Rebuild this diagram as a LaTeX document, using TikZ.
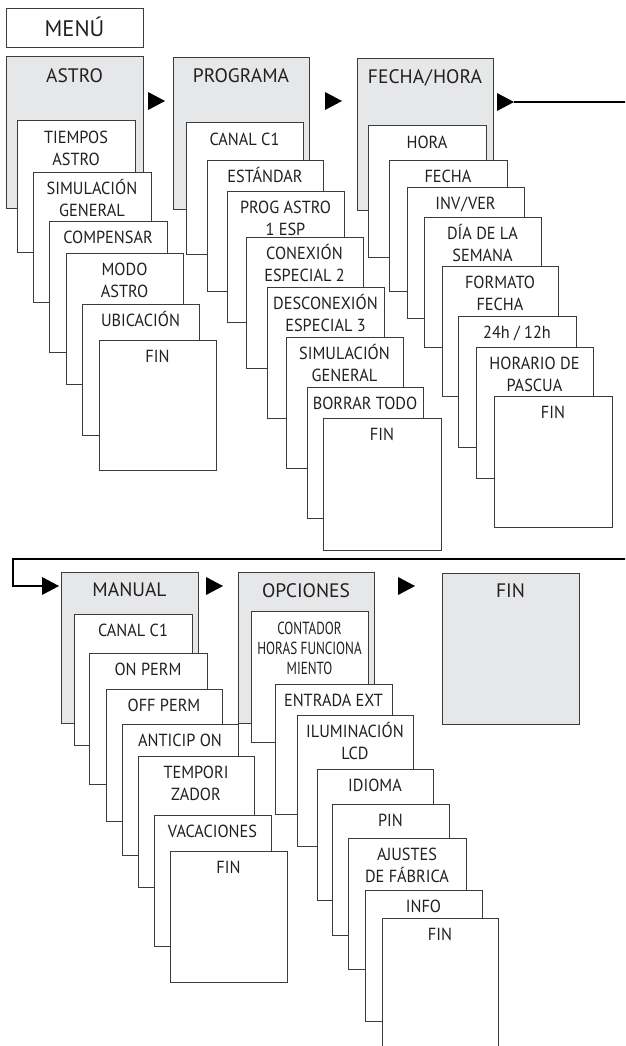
\documentclass[tikz,border=0pt]{standalone}
\usepackage{fontspec}
\setmainfont{PT Sans}
\newfontfamily\lblfont[FakeStretch=0.93]{PT Sans}
\newfontfamily\hdrfont{PT Sans}
\newfontfamily\narrowfont[FakeStretch=0.75]{PT Sans}
\definecolor{boxgray}{HTML}{E6E7E8}
\definecolor{edge}{HTML}{3C3C3C}
\definecolor{ink}{HTML}{231F20}
\newcommand\mytl[1]{\begin{tabular}[t]{@{}c@{}}#1\end{tabular}}
\newcommand\mybox[9][lbl]{%
  \pgfmathsetmacro\mybw{#6-#4}%
  \pgfmathsetmacro\mybh{#7-#5}%
  \node[#2, minimum width=\mybw pt, minimum height=\mybh pt, anchor=north west] (#3) at (#4,#5) {};
  \node[#1] (#3t) at ([yshift=-#8pt]#3.north) {\mytl{#9}};
}
\newcommand\tri[3]{%
  \fill[black] (#2,{#3-9}) -- ({#2+17},#3) -- (#2,{#3+9}) -- cycle;
  \coordinate (#1) at ({#2+17},#3);
  \coordinate (#1b) at (#2,#3);
}
\tikzset{
  sub/.style={draw=edge, line width=1pt, fill=white, inner sep=0pt, outer sep=0pt},
  grp/.style={draw=edge, line width=1pt, fill=boxgray, inner sep=0pt, outer sep=0pt},
  lbl/.style={font=\lblfont\fontsize{17.5}{21.5}\selectfont, text=ink, inner sep=0pt, anchor=base},
  nlbl/.style={font=\narrowfont\fontsize{17.5}{20}\selectfont, text=ink, inner sep=0pt, anchor=base},
  hdr/.style={font=\hdrfont\fontsize{19.5}{22}\selectfont, text=ink, inner sep=0pt, anchor=base},
  menulbl/.style={font=\hdrfont\fontsize{22.5}{24}\selectfont, text=ink, inner sep=0pt, anchor=base},
  conn/.style={line width=2.4pt, black}
}
\begin{document}
\begin{tikzpicture}[x=1pt, y=-1pt]
\useasboundingbox (0,0) rectangle (625,1046);
\clip (0,0) rectangle (625,1046);
\fill[white] (0,0) rectangle (625,1046);

\mybox[menulbl]{sub}{menu}{6}{9}{143}{48}{28}{MENÚ}

% ASTRO
\mybox[hdr]{grp}{astro}{6}{57}{143}{208}{26}{ASTRO}
\mybox{sub}{tiempos}{17}{121}{135}{252}{22.5}{TIEMPOS\\ASTRO}
\mybox{sub}{simA}{33}{172}{151}{302}{22.5}{SIMULACIÓN\\GENERAL}
\mybox{sub}{comp}{49}{221}{167}{352}{22.5}{COMPENSAR}
\mybox{sub}{modo}{66}{253}{183}{384}{22.5}{MODO\\ASTRO}
\mybox{sub}{ubic}{82}{304}{199}{435}{22.5}{UBICACIÓN}
\mybox{sub}{finA}{99}{340}{216}{470}{22.5}{FIN}

% PROGRAMA
\mybox[hdr]{grp}{prog}{173}{58}{309}{209}{25}{PROGRAMA}
\mybox{sub}{canalP}{186}{123}{303}{254}{22.5}{CANAL C1}
\mybox{sub}{estd}{207}{160}{323}{291}{22.5}{ESTÁNDAR}
\mybox{sub}{pastro}{227}{191}{344}{322}{22.5}{PROG ASTRO\\1 ESP}
\mybox{sub}{conex}{246}{237}{363}{368}{22.5}{CONEXIÓN\\ESPECIAL 2}
\mybox{sub}{descon}{267}{287}{384}{418}{22.5}{DESCONEXIÓN\\ESPECIAL 3}
\mybox{sub}{simP}{286}{337}{403}{468}{22.5}{SIMULACIÓN\\GENERAL}
\mybox{sub}{borrar}{307}{387}{423}{518}{22.5}{BORRAR TODO}
\mybox{sub}{finP}{323}{418}{441}{550}{22.5}{FIN}

% FECHA/HORA
\mybox[hdr]{grp}{fecha}{357}{59}{493}{210}{25}{FECHA\kern1pt/\kern1pt HORA}
\mybox{sub}{hora}{368}{126}{486}{257}{22.5}{HORA}
\mybox{sub}{fechaB}{389}{160}{507}{291}{22.5}{FECHA}
\mybox{sub}{inv}{407}{187}{524}{318}{22.5}{INV\kern1pt/\kern1pt VER}
\mybox{sub}{dia}{424}{217}{541}{347}{22.5}{DÍA DE LA\\SEMANA}
\mybox{sub}{formato}{442}{266}{558}{396}{22.5}{FORMATO\\FECHA}
\mybox{sub}{hdoce}{458}{316}{576}{447}{22.5}{24h / 12h}
\mybox{sub}{horario}{476}{347}{593}{478}{22.5}{HORARIO DE\\PASCUA}
\mybox{sub}{finF}{494}{396}{612}{527}{22.5}{FIN}

% MANUAL
\mybox[hdr]{grp}{manual}{61}{572}{198}{723}{24}{MANUAL}
\mybox{sub}{canalM}{74}{614}{192}{745}{22.5}{CANAL C1}
\mybox{sub}{onp}{89}{653}{207}{784}{22.5}{ON PERM}
\mybox{sub}{offp}{106}{689}{222}{821}{22.5}{OFF PERM}
\mybox{sub}{antic}{122}{724}{238}{855}{22.5}{ANTICIP ON}
\mybox{sub}{tempo}{138}{756}{254}{887}{22.5}{TEMPORI\\ZADOR}
\mybox{sub}{vac}{154}{815}{271}{946}{22.5}{VACACIONES}
\mybox{sub}{finM}{170}{851}{287}{982}{22.5}{FIN}

% OPCIONES
\mybox[hdr]{grp}{opc}{238}{572}{374}{723}{25}{OPCIONES}
\mybox[nlbl]{sub}{cont}{251}{611}{368}{742}{23}{CONTADOR\\HORAS FUNCIONA\\MIENTO}
\mybox{sub}{entr}{275}{684}{392}{814}{22.5}{ENTRADA EXT}
\mybox{sub}{ilum}{297}{715}{413}{846}{22.5}{ILUMINACIÓN\\LCD}
\mybox{sub}{idio}{317}{769}{433}{900}{22.5}{IDIOMA}
\mybox{sub}{pin}{332}{804}{449}{935}{22.5}{PIN}
\mybox{sub}{ajus}{348}{838}{466}{969}{22.5}{AJUSTES\\DE FÁBRICA}
\mybox{sub}{info}{365}{890}{482}{1021}{22.5}{INFO}
\mybox{sub}{finO}{382}{918}{498}{1049}{22.5}{FIN}

% final FIN
\mybox[hdr]{grp}{finG}{442}{573}{579}{724}{24}{FIN}

% arrows
\tri{t1}{148}{101}
\tri{t2}{325}{101}
\tri{t3}{497}{102}
\tri{t4}{42}{586}
\tri{t5}{206}{586}
\tri{t6}{398}{586}

\coordinate (outR) at (630,102);
\draw[conn] (t3) -- (outR);
\coordinate (inR) at (630,559);
\coordinate (turn) at (13,559);
\draw[conn] (inR) -- (turn) |- (t4b);
\end{tikzpicture}
\end{document}
